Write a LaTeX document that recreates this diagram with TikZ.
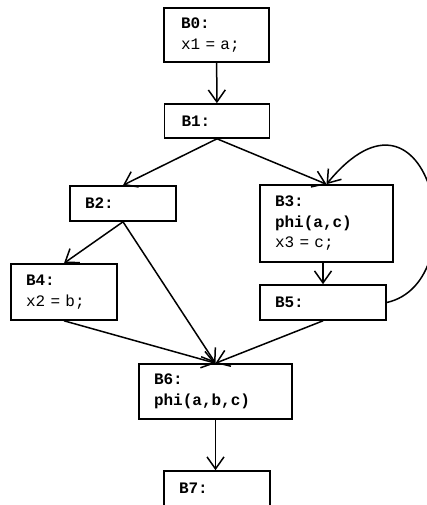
\documentclass[tikz,border=0pt]{standalone}
\usepackage{fontspec}
\setmonofont{Liberation Mono}
\usetikzlibrary{arrows.meta}
\begin{document}
\begin{tikzpicture}[x=1pt,y=-1pt,
  blk/.style={draw,line width=1.6pt,font=\ttfamily\fontsize{16}{20.5}\selectfont,align=left,inner xsep=15pt,inner ysep=2pt},
  arr/.style={line width=1.5pt,-{Straight Barb[length=12pt,width=17pt]}}]
\useasboundingbox (0,0) rectangle (426,505);
\node[blk,text width=71pt,inner xsep=17pt,minimum height=54pt] (B0) at (216.5,35) {\textbf{B0:}\\x1 = a;};
\node[blk,text width=71pt,inner xsep=17pt,minimum height=34pt] (B1) at (217,121) {\textbf{B1:}};
\node[blk,text width=76pt,minimum height=35pt] (B2) at (123,203.5) {\textbf{B2:}};
\node[blk,text width=103pt,minimum height=77pt] (B3) at (326.5,223.5) {\textbf{B3:}\\\textbf{phi(a,c)}\\x3 = c;};
\node[blk,text width=76pt,minimum height=56pt] (B4) at (64,292) {\textbf{B4:}\\x2 = b;};
\node[blk,text width=96pt,minimum height=35pt] (B5) at (323,302.5) {\textbf{B5:}};
\node[blk,text width=123pt,minimum height=55pt] (B6) at (215.5,391.5) {\textbf{B6:}\\\textbf{phi(a,b,c)}};
\node[blk,text width=76pt,minimum height=35pt] (B7) at (217,488.5) {\textbf{B7:}};
\draw[arr] (B0) -- (B1);
\draw[arr] (B1.south) -- (B2.north);
\draw[arr] (B1.south) -- (B3.north);
\draw[arr] (B2.south) -- (B4.north);
\draw[arr] (B2.south) -- (B6.north);
\draw[arr] (B5.north |- B3.south) -- (B5.north);
\draw[arr] (B4.south) -- (B6.north);
\draw[arr] (B5.south) -- (B6.north);
\draw[arr] (B6.south) -- (B6.south |- B7.north);
\draw[arr] (B5.east) .. controls (478,282) and (430,58) .. (B3.north);
\end{tikzpicture}
\end{document}
